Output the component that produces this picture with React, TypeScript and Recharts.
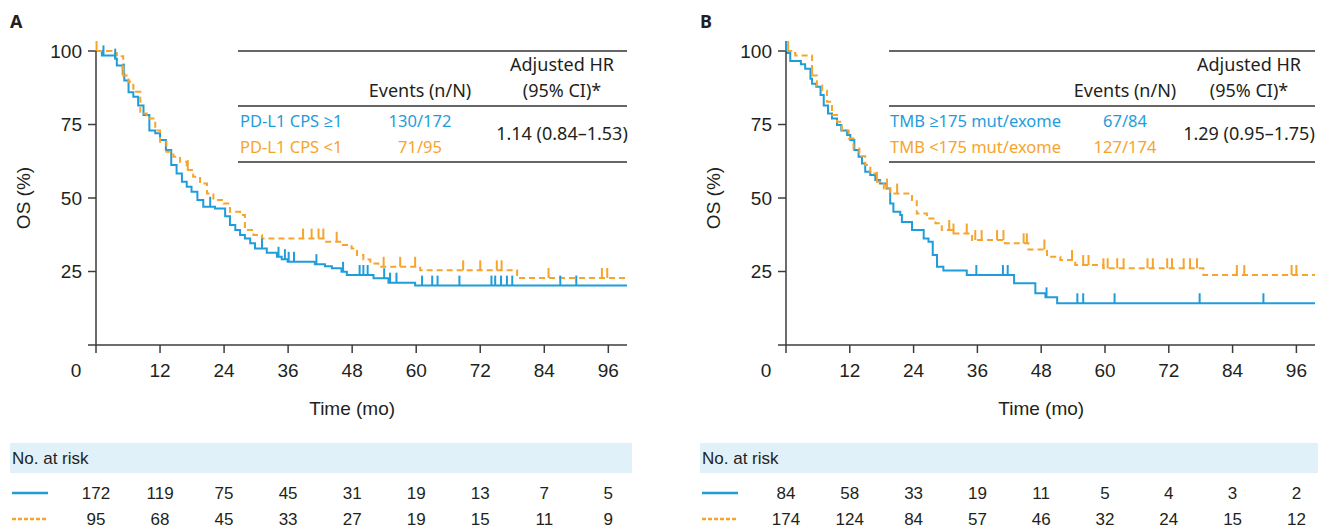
import React from "react";
import { ComposedChart, Line, Scatter, XAxis, YAxis } from "recharts";

const BLUE = "#1f9ddb";
const ORANGE = "#f7a42c";
const INK = "#231f20";
const AXIS = "#3c3c3c";
const ARIAL = '"Liberation Sans", Arial, sans-serif';
const SANS = '"Noto Sans", "Open Sans", sans-serif';

const TIME_TICKS = [0, 12, 24, 36, 48, 60, 72, 84, 96];
const OS_TICKS = [0, 25, 50, 75, 100];
const X_MAX = 99.5;

// ---- panel A: PD-L1 CPS (time in months, OS in %)
const cpsHigh: [number, number][] = [
  [0, 100], [1.1, 98.5], [3.6, 97.4], [3.9, 95.1], [5, 92.3], [5.3, 90], [6.1, 86], [7, 84.4],
  [7.9, 81.5], [8.9, 78.2], [10, 73], [11.1, 72], [12, 69.7], [13.1, 66.3], [14.1, 61.2],
  [15.1, 58.3], [16.1, 55.5], [17, 53.8], [17.9, 52.1], [19, 49.3], [20.1, 47], [22.3, 46.4],
  [24.2, 43.8], [25.1, 40.8], [26.1, 39.1], [27, 37.4], [27.9, 36.2], [28.9, 34.6], [29.8, 32.8],
  [32, 31.4], [33.9, 30], [34.8, 29.2], [35.9, 28.3], [41, 27.5], [42.9, 26.8], [44.2, 26.1],
  [46, 24.9], [47, 23.8], [52, 22.7], [54.8, 21.2], [59.8, 20.2], [X_MAX, 20.2],
];
const cpsLow: [number, number][] = [
  [0, 100], [2.9, 99.3], [3.9, 98.2], [5.1, 91.7], [6.1, 89.5], [7, 86.1], [8.3, 78.7], [9.5, 77],
  [11.1, 73], [12, 69.1], [13.2, 65.7], [14.5, 64], [15.75, 62.3], [17, 59.5], [18.2, 57.2],
  [19.5, 54.9], [20.8, 51.5], [22, 49.3], [23.9, 48.1], [25.1, 45.3], [27, 44.2], [27.9, 39.1],
  [29.5, 37.4], [31.1, 36.2], [42.9, 35.1], [45.75, 34], [47.9, 32.8], [48.9, 30.6], [50.1, 29.1],
  [51.4, 27.7], [52.9, 26.6], [60.75, 25.4], [78.9, 22.8], [X_MAX, 22.8],
];
const cpsHighCensor = [1.4, 3.6, 5.2, 21.4, 31.1, 34.2, 35.4, 36.1, 37.1, 41.3, 46.3, 49.4, 50.1, 50.9,
  54, 55.1, 56.3, 61.1, 63, 64, 68.1, 74.1, 74.8, 75.9, 77, 78, 87, 90];
const cpsLowCensor = [0.1, 5.1, 17.2, 38.8, 40.4, 41.7, 42.6, 45.1, 53.9, 57, 59.8, 68.8, 72, 75.1, 76,
  84.8, 94.8, 95.8];
const cpsHighRisk = [172, 119, 75, 45, 31, 19, 13, 7, 5];
const cpsLowRisk = [95, 68, 45, 33, 27, 19, 15, 11, 9];

// ---- panel B: TMB
const tmbHigh: [number, number][] = [
  [0, 100], [0.2, 99.3], [0.8, 96.6], [2.8, 95.5], [3.6, 94], [4.6, 90.6], [4.9, 88.9], [5.7, 87.8],
  [6.5, 85], [7.1, 81.5], [7.9, 78.7], [8.65, 77], [9.6, 74.8], [10.4, 73], [11.5, 71.4],
  [12.1, 69.7], [12.85, 66.3], [13.65, 64], [14.3, 61.7], [14.9, 58.9], [15.85, 57.8], [16.8, 56.1],
  [17.7, 54.9], [18.9, 53.2], [19.6, 48.1], [20.2, 45.3], [21.5, 44.2], [21.8, 41.8], [23.7, 39.1],
  [25.9, 36.2], [26.8, 35.1], [27.6, 30.6], [28.4, 26.6], [29.6, 25.3], [34, 23.8], [42.9, 21],
  [46.9, 17.6], [48.8, 16.2], [51, 14.2], [X_MAX, 14.2],
];
const tmbLow: [number, number][] = [
  [0, 100], [1, 99.3], [1.75, 98.5], [4.9, 91.7], [5.8, 88.3], [6.8, 86.6], [7.7, 82.7], [8.65, 78.2],
  [9.6, 75.9], [10.5, 73], [11.8, 70.2], [12.7, 66.8], [13.8, 64.2], [14.9, 61.2], [15.85, 58.3],
  [17.1, 55.5], [18.4, 53.2], [19.6, 51.5], [23.7, 49.3], [24.6, 44.7], [26.5, 43], [28.1, 41.4],
  [29.3, 39.1], [31.5, 37.9], [35, 35.7], [41.2, 34.6], [45.6, 32.5], [49.1, 30], [51.6, 28.9],
  [54.4, 27.2], [59.7, 26.1], [78.5, 23.8], [X_MAX, 23.8],
];
const tmbHighCensor = [0, 35.8, 40.8, 41.7, 49, 54.8, 55.9, 61.8, 77.8, 89.8];
const tmbLowCensor = [0.4, 4.9, 17.1, 19, 20.9, 30.7, 31.5, 34, 35.6, 36.8, 39.7, 40.9, 44.7, 45.3,
  48.6, 53.8, 55.9, 56.9, 59.7, 60.5, 62.3, 63.5, 68, 69, 71.7, 72.6, 74.8, 76, 77.3, 84.8, 86.2,
  95.1, 96];
const tmbHighRisk = [84, 58, 33, 19, 11, 5, 4, 3, 2];
const tmbLowRisk = [174, 124, 84, 57, 46, 32, 24, 15, 12];

const pts = (c: [number, number][]) => c.map(([t, s]) => ({ t, s }));
const stepAt = (c: [number, number][], t: number) => {
  let s = c[0][1];
  for (const [ct, cs] of c) if (ct <= t) s = cs;
  return s;
};
const censorPts = (c: [number, number][], times: number[]) => times.map((t) => ({ t, s: stepAt(c, t) }));

const XTick = (p: any) => {
  const v = p.payload.value;
  return (
    <text x={v === 0 ? p.x - 20 : p.x} y={p.y} dy="0.71em" textAnchor="middle" fill={INK} fontSize={19} fontFamily={ARIAL}>
      {v}
    </text>
  );
};
const YTick = (p: any) => {
  const v = p.payload.value;
  if (v === 0) return null;
  return (
    <text x={p.x} y={p.y} dy="0.36em" textAnchor="end" fill={INK} fontSize={19} fontFamily={ARIAL}>
      {v}
    </text>
  );
};
const censorShape = (color: string) => (p: any) => (
  <line x1={p.cx} x2={p.cx} y1={p.cy} y2={p.cy - 10} stroke={color} strokeWidth={2} />
);
const riskShape = (p: any) => (
  <text x={p.cx} y={p.cy} dy="0.36em" textAnchor="middle" fill={INK} fontSize={17} fontFamily={ARIAL}>
    {p.payload.n}
  </text>
);

type Table = {
  x1: number; x2: number; evX: number; hrX: number; labelX: number;
  labels: [string, string]; events: [string, string]; hr: string;
};

function Panel(props: {
  left: number; plotW: number; letter: string; bandW: number;
  blue: [number, number][]; orange: [number, number][];
  blueCensor: number[]; orangeCensor: number[];
  blueRisk: number[]; orangeRisk: number[]; table: Table;
}) {
  const { left, plotW, letter, bandW, blue, orange, table } = props;
  const W = 96 + plotW + 12;
  const risk = [
    ...TIME_TICKS.map((t, i) => ({ t, row: 1, n: props.blueRisk[i] })),
    ...TIME_TICKS.map((t, i) => ({ t, row: 0, n: props.orangeRisk[i] })),
  ];
  const timeMid = 96 + (48 / X_MAX) * plotW;
  return (
    <div style={{ position: "absolute", left, top: 0, width: 660, height: 529 }}>
      <div style={{ position: "absolute", left: 0, top: 0 }}>
        <ComposedChart width={W} height={420} margin={{ top: 51, right: 12, bottom: 15, left: 0 }}>
          <XAxis type="number" dataKey="t" domain={[0, X_MAX]} ticks={TIME_TICKS} tickSize={8} tickMargin={11}
            tick={<XTick />} stroke={AXIS} strokeWidth={1.5} height={60} interval={0} />
          <YAxis type="number" dataKey="s" domain={[0, 100]} ticks={OS_TICKS} tickSize={8} tickMargin={6}
            tick={<YTick />} stroke={AXIS} strokeWidth={1.5} width={96} interval={0} />
          <Line data={pts(blue)} dataKey="s" type="stepAfter" stroke={BLUE} strokeWidth={2} dot={false} isAnimationActive={false} />
          <Line data={pts(orange)} dataKey="s" type="stepAfter" stroke={ORANGE} strokeWidth={2} strokeDasharray="6 4"
            dot={false} isAnimationActive={false} />
          <Scatter data={censorPts(blue, props.blueCensor)} dataKey="s" shape={censorShape(BLUE)} isAnimationActive={false} />
          <Scatter data={censorPts(orange, props.orangeCensor)} dataKey="s" shape={censorShape(ORANGE)} isAnimationActive={false} />
        </ComposedChart>
      </div>
      <div style={{ position: "absolute", left: 0, top: 480 }}>
        <ComposedChart width={W} height={52} margin={{ top: 0, right: 12, bottom: 0, left: 96 }}>
          <XAxis type="number" dataKey="t" domain={[0, X_MAX]} hide />
          <YAxis type="number" dataKey="row" domain={[-0.5, 1.5]} hide />
          <Scatter data={risk} dataKey="row" shape={riskShape} isAnimationActive={false} />
        </ComposedChart>
      </div>
      <svg width={660} height={529} style={{ position: "absolute", left: 0, top: 0, pointerEvents: "none" }}>
        <text x={10} y={28} fontSize={18} fontWeight={700} fontFamily={SANS} fill={INK}>{letter}</text>
        <text x={0} y={0} transform="translate(30,198) rotate(-90)" textAnchor="middle" fontSize={19} fontFamily={ARIAL} fill={INK}>
          OS (%)
        </text>
        <text x={timeMid} y={415} textAnchor="middle" fontSize={19} fontFamily={ARIAL} fill={INK}>Time (mo)</text>
        {[51, 106, 162].map((y) => (
          <line key={y} x1={table.x1} x2={table.x2} y1={y} y2={y} stroke="#333" strokeWidth={1.3} />
        ))}
        <g fontFamily={SANS} fontSize={18} fill={INK} textAnchor="middle">
          <text x={table.hrX} y={71}>Adjusted HR</text>
          <text x={table.hrX} y={97}>(95% CI)*</text>
          <text x={table.evX} y={97}>Events (n/N)</text>
          <text x={table.hrX} y={140}>{table.hr}</text>
        </g>
        <g fontFamily={SANS} fontSize={16.5}>
          <text x={table.labelX} y={127} fill={BLUE}>{table.labels[0]}</text>
          <text x={table.labelX} y={153} fill={ORANGE}>{table.labels[1]}</text>
          <text x={table.evX} y={127} fill={BLUE} textAnchor="middle">{table.events[0]}</text>
          <text x={table.evX} y={153} fill={ORANGE} textAnchor="middle">{table.events[1]}</text>
        </g>
        <rect x={10} y={443} width={bandW} height={30} fill="#e1f1f9" />
        <text x={12} y={458} dy="0.36em" fontSize={17} fontFamily={ARIAL} fill={INK}>No. at risk</text>
        <line x1={12} x2={48} y1={493} y2={493} stroke={BLUE} strokeWidth={2.5} />
        <line x1={12} x2={48} y1={519} y2={519} stroke={ORANGE} strokeWidth={2.5} strokeDasharray="4 2" />
      </svg>
    </div>
  );
}

export default function App() {
  return (
    <div style={{ position: "absolute", left: 0, top: 0, width: 1325, height: 529, background: "#fff", overflow: "hidden" }}>
      <Panel left={0} plotW={531} letter="A" bandW={622}
        blue={cpsHigh} orange={cpsLow} blueCensor={cpsHighCensor} orangeCensor={cpsLowCensor}
        blueRisk={cpsHighRisk} orangeRisk={cpsLowRisk}
        table={{ x1: 238, x2: 627, evX: 420, hrX: 562, labelX: 240,
          labels: ["PD-L1 CPS \u22651", "PD-L1 CPS <1"], events: ["130/172", "71/95"], hr: "1.14 (0.84\u20131.53)" }} />
      <Panel left={690} plotW={529} letter="B" bandW={618}
        blue={tmbHigh} orange={tmbLow} blueCensor={tmbHighCensor} orangeCensor={tmbLowCensor}
        blueRisk={tmbHighRisk} orangeRisk={tmbLowRisk}
        table={{ x1: 199, x2: 625, evX: 435, hrX: 559, labelX: 200,
          labels: ["TMB \u2265175 mut/exome", "TMB <175 mut/exome"], events: ["67/84", "127/174"], hr: "1.29 (0.95\u20131.75)" }} />
    </div>
  );
}
